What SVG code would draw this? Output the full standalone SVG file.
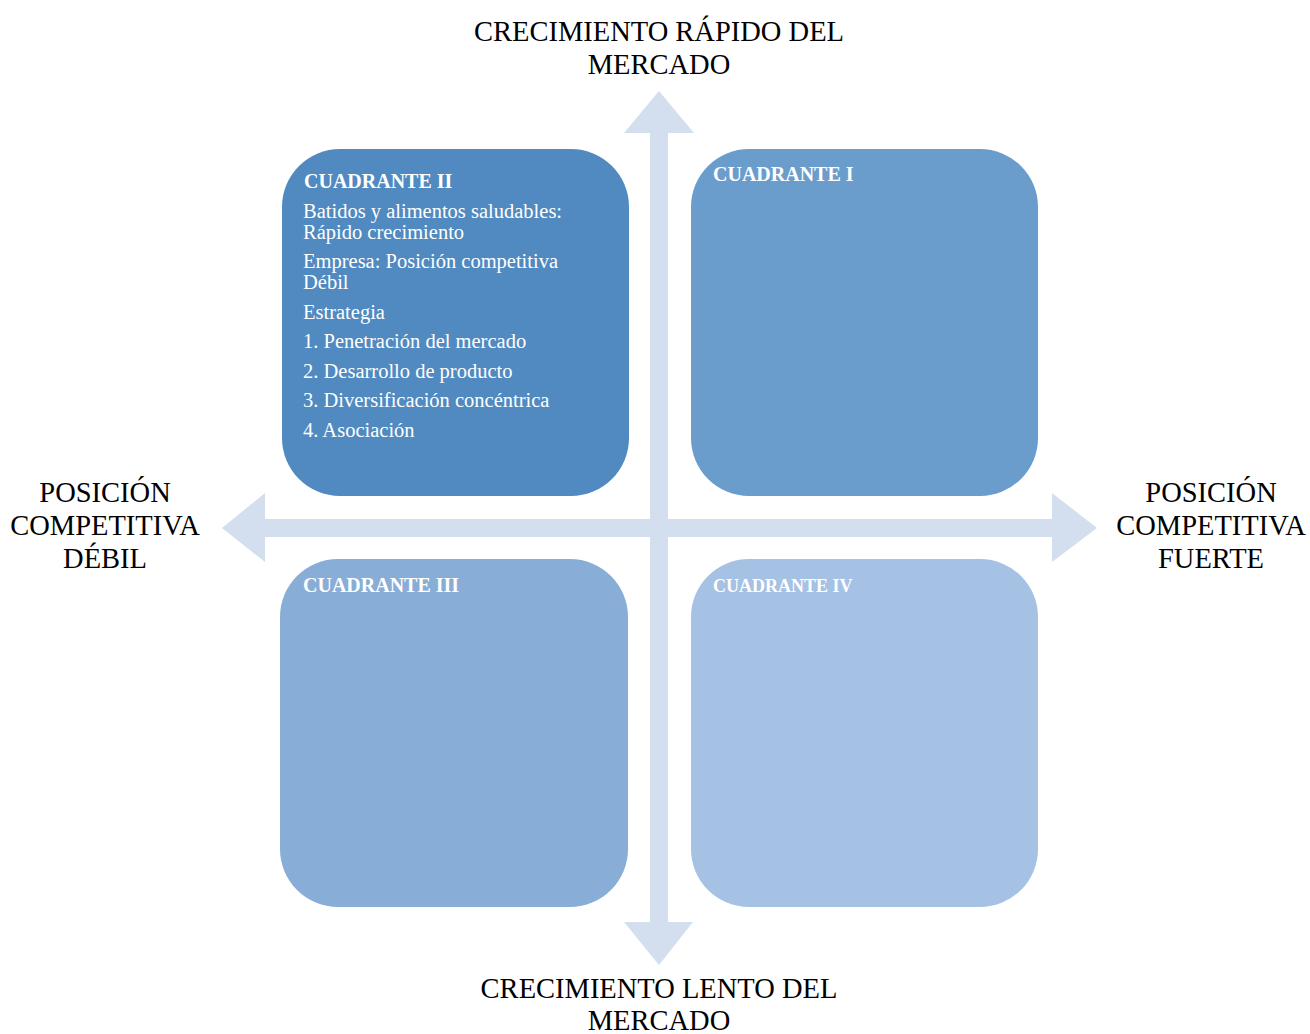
<svg xmlns="http://www.w3.org/2000/svg" width="1310" height="1034" viewBox="0 0 1310 1034">
<style>
.axis{font-family:"Liberation Serif","Times New Roman",serif;font-size:28.5px;fill:#000;text-anchor:middle}
.qt{font-family:"Liberation Serif","Times New Roman",serif;font-size:20px;font-weight:bold;fill:#fff}
.qb{font-family:"Liberation Serif","Times New Roman",serif;font-size:20.5px;fill:#fff}
.arrow{fill:#D3DEEF}
</style>
<rect width="1310" height="1034" fill="#fff"/>
<g id="connectors">
<polygon class="arrow" points="659,91 694,133 668,133 668,922 693,922 659,965 624,922 650,922 650,133 624,133"/>
<polygon class="arrow" points="222,528 265,493 265,519 1052,519 1052,493 1097,528 1052,562 1052,537 265,537 265,562"/>
</g>
<g id="q2">
<rect x="282" y="149" width="347" height="347" rx="58" fill="#508AC0"/>
<text class="qt" x="304" y="188">CUADRANTE II</text>
<text class="qb" x="303" y="218">Batidos y alimentos saludables:</text>
<text class="qb" x="303" y="239">Rápido crecimiento</text>
<text class="qb" x="303" y="268">Empresa: Posición competitiva</text>
<text class="qb" x="303" y="289">Débil</text>
<text class="qb" x="303" y="319">Estrategia</text>
<text class="qb" x="303" y="348">1. Penetración del mercado</text>
<text class="qb" x="303" y="378">2. Desarrollo de producto</text>
<text class="qb" x="303" y="407">3. Diversificación concéntrica</text>
<text class="qb" x="303" y="437">4. Asociación</text>
</g>
<g id="q1">
<rect x="691" y="149" width="347" height="347" rx="58" fill="#6B9DCC"/>
<text class="qt" x="713" y="181">CUADRANTE I</text>
</g>
<g id="q3">
<rect x="280" y="559" width="348" height="348" rx="58" fill="#88ADD6"/>
<text class="qt" x="303" y="592">CUADRANTE III</text>
</g>
<g id="q4">
<rect x="691" y="559" width="347" height="348" rx="58" fill="#A5C1E3"/>
<text class="qt" x="713" y="592" style="font-size:18px">CUADRANTE IV</text>
</g>
<g id="label-top">
<text class="axis" x="659" y="41">CRECIMIENTO RÁPIDO DEL</text>
<text class="axis" x="659" y="74">MERCADO</text>
</g>
<g id="label-left">
<text class="axis" x="105" y="502">POSICIÓN</text>
<text class="axis" x="105" y="535">COMPETITIVA</text>
<text class="axis" x="105" y="568">DÉBIL</text>
</g>
<g id="label-right">
<text class="axis" x="1211" y="502">POSICIÓN</text>
<text class="axis" x="1211" y="535">COMPETITIVA</text>
<text class="axis" x="1211" y="568">FUERTE</text>
</g>
<g id="label-bottom">
<text class="axis" x="659" y="998">CRECIMIENTO LENTO DEL</text>
<text class="axis" x="659" y="1030">MERCADO</text>
</g>
</svg>
